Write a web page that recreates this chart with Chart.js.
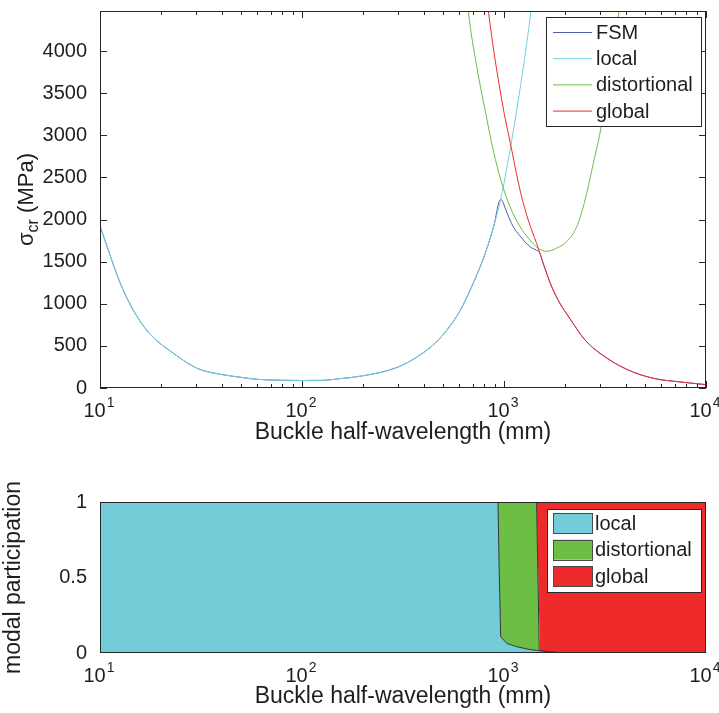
<!DOCTYPE html>
<html><head><meta charset="utf-8">
<script src="https://cdn.jsdelivr.net/npm/chart.js@4/dist/chart.umd.min.js"></script>
<style>
html,body{margin:0;padding:0;background:#fff;width:719px;height:713px;overflow:hidden}
#c1{position:absolute;left:0;top:0;width:719px;height:470px}
#c2{position:absolute;left:0;top:470px;width:719px;height:243px}
</style></head><body>
<canvas id="c1" width="719" height="470"></canvas>
<canvas id="c2" width="719" height="243"></canvas>
<script>
// ---------- data: top chart (critical stress vs half-wavelength) ----------
const seriesNames = ['FSM', 'local', 'distortional', 'global'];
const seriesColors = ['#4a5fb3', '#72d0de', '#6cbd45', '#ee2b2b'];

const fsmX = [10, 11.2, 12.6, 14.6, 17, 19.8, 23.1, 26.9, 31.3, 39.3, 49.4, 60, 78, 100, 127, 153, 197, 294, 384, 482, 605, 700, 791, 885, 963,
              1031, 1071, 1111, 1200, 1345, 1450, 1500, 1563, 1722, 1892, 2124, 2518, 2985, 4048, 5486, 7434, 10000];
const fsmY = [1926, 1580, 1243, 926, 688, 530, 412, 300, 220, 163, 128, 103, 92, 89, 91, 110, 142, 242, 392, 590, 915, 1230, 1540, 1900, 2240,
              2090, 1994, 1915, 1805, 1677, 1635, 1610, 1480, 1203, 1005, 820, 570, 412, 222, 115, 72, 40];

const localX = [10, 11.2, 12.6, 14.6, 17, 19.8, 23.1, 26.9, 31.3, 39.3, 49.4, 60, 78, 100, 127, 153, 197, 294, 384, 482, 605, 700, 791, 885, 963, 1071, 1177, 1280, 1361, 1450];
const localY = [1926, 1580, 1243, 926, 688, 530, 412, 300, 220, 163, 128, 103, 92, 89, 91, 110, 142, 242, 392, 590, 915, 1230, 1540, 1900, 2240, 2825, 3419, 4000, 4487, 5100];

const distX = [640, 665, 733, 806, 885, 975, 1071, 1200, 1345, 1479, 1627, 1822, 2043, 2292, 2500, 2768, 3044, 3221, 3473, 3719, 3900];
const distY = [4950, 4487, 3814, 3300, 2820, 2430, 2152, 1915, 1757, 1658, 1622, 1660, 1737, 1915, 2200, 2667, 3142, 3617, 4092, 4487, 4900];

const globalX = [800, 836, 975, 1092, 1200, 1318, 1450, 1563, 1722, 1892, 2124, 2518, 2985, 4048, 5486, 7434, 10000];
const globalY = [4950, 4487, 3419, 2825, 2350, 1994, 1717, 1480, 1203, 1005, 820, 570, 412, 222, 115, 72, 40];

// ---------- data: bottom chart (modal participation) ----------
const modalNames = ['local', 'distortional', 'global'];
const modalColors = ['#72cdd8', '#6dbe45', '#ee2a2a'];
const modalX = [10, 934, 945, 963, 1031, 1154, 1318, 1450, 1495, 1507, 1822, 2000, 10000];
const localPart = [1, 1, 0.6, 0.108, 0.064, 0.042, 0.025, 0.017, 0.015, 0.015, 0.003, 0, 0];
const distPart = [0, 0, 0.4, 0.892, 0.936, 0.958, 0.975, 0.983, 0, 0, 0, 0, 0];
const globalPart = [0, 0, 0, 0, 0, 0, 0, 0, 0.985, 0.985, 0.997, 1, 1];

// ---------- tick labels / titles ----------
const xTickValues = [10, 100, 1000, 10000];
const xTickBase = '10';
const xTickExponents = ['1', '2', '3', '4'];
const yTickValuesTop = [0, 500, 1000, 1500, 2000, 2500, 3000, 3500, 4000];
const yTickValuesBottom = [0, 0.5, 1];
const xTitle = 'Buckle half-wavelength (mm)';
const yTitleMain = 'σ', yTitleSub = 'cr', yTitleUnit = ' (MPa)';
const yTitle2 = 'modal participation';

const FONT = '"Liberation Sans", Arial, Helvetica, sans-serif';
const INK = '#1e1e1e';
const AXIS = '#262626';
Chart.defaults.font.family = FONT;
Chart.defaults.color = INK;

function pts(xs, ys) { return xs.map((x, i) => ({ x: x, y: ys[i] })); }

function drawBox(ctx, ca) {
  ctx.save();
  ctx.strokeStyle = AXIS; ctx.lineWidth = 1;
  ctx.strokeRect(Math.round(ca.left) + 0.5, Math.round(ca.top) + 0.5, Math.round(ca.width) - 1, Math.round(ca.height) - 1);
  ctx.restore();
}

function drawXLabels(chart) {
  const ctx = chart.ctx, xs = chart.scales.x, ca = chart.chartArea;
  ctx.save();
  ctx.fillStyle = INK; ctx.textBaseline = 'alphabetic'; ctx.textAlign = 'left';
  xTickValues.forEach((v, i) => {
    const px = xs.getPixelForValue(v);
    ctx.font = '20px ' + FONT;
    const w1 = ctx.measureText(xTickBase).width;
    ctx.font = '14px ' + FONT;
    const w2 = ctx.measureText(xTickExponents[i]).width;
    const x0 = px - (w1 + 1 + w2) / 2 - 1;
    ctx.font = '20px ' + FONT;
    ctx.fillText(xTickBase, x0, ca.bottom + 29);
    ctx.font = '14px ' + FONT;
    ctx.fillText(xTickExponents[i], x0 + w1 + 1, ca.bottom + 19);
  });
  ctx.restore();
}

function drawTicks(chart) {
  const ctx = chart.ctx, xs = chart.scales.x, ys = chart.scales.y, ca = chart.chartArea;
  ctx.save();
  ctx.strokeStyle = AXIS; ctx.lineWidth = 1;
  ctx.beginPath();
  ys.ticks.forEach(t => {
    const py = Math.round(ys.getPixelForValue(t.value)) + 0.5;
    ctx.moveTo(ca.left, py); ctx.lineTo(ca.left + 7, py);
    ctx.moveTo(ca.right, py); ctx.lineTo(ca.right - 7, py);
  });
  const vals = [];
  xTickValues.forEach((d, i) => {
    vals.push([d, 7]);
    if (i < xTickValues.length - 1) for (let m = 2; m <= 9; m++) vals.push([d * m, 4]);
  });
  vals.forEach(([v, len]) => {
    const px = Math.round(xs.getPixelForValue(v)) + 0.5;
    ctx.moveTo(px, ca.bottom); ctx.lineTo(px, ca.bottom - len);
    ctx.moveTo(px, ca.top); ctx.lineTo(px, ca.top + len);
  });
  ctx.stroke();
  ctx.restore();
}

function drawSigmaTitle(chart) {
  const ctx = chart.ctx, ca = chart.chartArea;
  const f1 = '22px ' + FONT, f2 = '16px ' + FONT;
  ctx.save();
  ctx.translate(33, (ca.top + ca.bottom) / 2);
  ctx.rotate(-Math.PI / 2);
  ctx.fillStyle = INK; ctx.textBaseline = 'alphabetic'; ctx.textAlign = 'left';
  ctx.font = f1; const wS = ctx.measureText(yTitleMain).width; const wU = ctx.measureText(yTitleUnit).width;
  ctx.font = f2; const wC = ctx.measureText(yTitleSub).width;
  let u = -(wS + wC + wU) / 2;
  ctx.font = f1; ctx.fillText(yTitleMain, u, 0); u += wS;
  ctx.font = f2; ctx.fillText(yTitleSub, u, 5); u += wC;
  ctx.font = f1; ctx.fillText(yTitleUnit, u, 0);
  ctx.restore();
}

function drawLineLegend(chart) {
  const ctx = chart.ctx, ca = chart.chartArea;
  const w = 155, h = 109;
  const L = Math.round(ca.right - 5 - w), T = Math.round(ca.top + 6);
  ctx.save();
  ctx.fillStyle = '#fff'; ctx.fillRect(L, T, w, h);
  ctx.strokeStyle = AXIS; ctx.lineWidth = 1; ctx.strokeRect(L + 0.5, T + 0.5, w, h);
  chart.data.datasets.forEach((ds, i) => {
    const cy = T + 15.5 + i * 26.2;
    ctx.strokeStyle = ds.borderColor; ctx.lineWidth = 1;
    ctx.beginPath(); ctx.moveTo(L + 7, cy); ctx.lineTo(L + 46, cy); ctx.stroke();
    ctx.fillStyle = INK; ctx.font = '20px ' + FONT; ctx.textBaseline = 'middle'; ctx.textAlign = 'left';
    ctx.fillText(ds.label, L + 50, cy + 1);
  });
  ctx.restore();
}

function drawAreaLegend(chart) {
  const ctx = chart.ctx, ca = chart.chartArea;
  const w = 154, h = 83;
  const L = Math.round(ca.right - 5 - w), T = Math.round(ca.top + 7);
  ctx.save();
  ctx.fillStyle = '#fff'; ctx.fillRect(L, T, w, h);
  ctx.strokeStyle = AXIS; ctx.lineWidth = 1; ctx.strokeRect(L + 0.5, T + 0.5, w, h);
  chart.data.datasets.forEach((ds, i) => {
    const top = T + 4 + i * 26.7;
    ctx.fillStyle = ds.backgroundColor; ctx.fillRect(L + 6, top, 39, 20);
    ctx.strokeStyle = '#4a4a4a'; ctx.strokeRect(L + 6.5, Math.round(top) + 0.5, 39, 20);
    ctx.fillStyle = INK; ctx.font = '20px ' + FONT; ctx.textBaseline = 'middle'; ctx.textAlign = 'left';
    ctx.fillText(ds.label, L + 48, top + 11);
  });
  ctx.restore();
}

// ---------- top chart ----------
const topDatasets = [
  { label: seriesNames[0], data: pts(fsmX, fsmY), borderColor: seriesColors[0], order: 4 },
  { label: seriesNames[1], data: pts(localX, localY), borderColor: seriesColors[1], order: 3 },
  { label: seriesNames[2], data: pts(distX, distY), borderColor: seriesColors[2], order: 2 },
  { label: seriesNames[3], data: pts(globalX, globalY), borderColor: seriesColors[3], order: 1 }
].map(d => Object.assign(d, { borderWidth: 1, pointRadius: 0, fill: false, cubicInterpolationMode: 'monotone' }));

new Chart(document.getElementById('c1'), {
  type: 'line',
  data: { datasets: topDatasets },
  options: {
    responsive: false, animation: false, devicePixelRatio: 1,
    layout: { padding: { top: 11, right: 13, left: 0, bottom: 0 } },
    plugins: { legend: { display: false }, tooltip: { enabled: false } },
    scales: {
      x: {
        type: 'logarithmic', min: 10, max: 10000,
        grid: { display: false }, border: { display: false },
        ticks: { display: false },
        title: { display: true, text: xTitle, font: { size: 23 }, color: INK, padding: { top: 0, bottom: 24 } },
        afterFit: s => { s.height = 82; s.paddingLeft = 0; s.paddingRight = 0; }
      },
      y: {
        min: 0, max: 4475,
        grid: { display: false }, border: { display: false },
        afterBuildTicks: s => { s.ticks = yTickValuesTop.map(v => ({ value: v })); },
        ticks: { padding: 5, font: { size: 20 }, color: INK, callback: v => String(v) },
        afterFit: s => { s.width = 100; s.paddingTop = 0; s.paddingBottom = 0; }
      }
    }
  },
  plugins: [{
    id: 'matlabTop',
    afterDraw: chart => {
      drawBox(chart.ctx, chart.chartArea);
      drawTicks(chart);
      drawXLabels(chart);
      drawSigmaTitle(chart);
      drawLineLegend(chart);
    }
  }]
});

// ---------- bottom chart ----------
const parts = [localPart, distPart, globalPart];
const botDatasets = modalNames.map((n, i) => ({
  label: n,
  data: pts(modalX, parts[i]),
  backgroundColor: modalColors[i],
  borderColor: '#333333',
  borderWidth: 1,
  pointRadius: 0,
  tension: 0,
  fill: i === 0 ? 'origin' : '-1'
}));

new Chart(document.getElementById('c2'), {
  type: 'line',
  data: { datasets: botDatasets },
  options: {
    responsive: false, animation: false, devicePixelRatio: 1,
    layout: { padding: { top: 32, right: 13, left: 0, bottom: 0 } },
    plugins: { legend: { display: false }, tooltip: { enabled: false } },
    scales: {
      x: {
        type: 'logarithmic', min: 10, max: 10000,
        grid: { display: false }, border: { display: false },
        ticks: { display: false },
        title: { display: true, text: xTitle, font: { size: 23 }, color: INK, padding: { top: 0, bottom: 3 } },
        afterFit: s => { s.height = 60; s.paddingLeft = 0; s.paddingRight = 0; }
      },
      y: {
        min: 0, max: 1, stacked: true,
        grid: { display: false }, border: { display: false },
        afterBuildTicks: s => { s.ticks = yTickValuesBottom.map(v => ({ value: v })); },
        ticks: { padding: 5, font: { size: 20 }, color: INK, callback: v => String(v) },
        title: { display: true, text: yTitle2, font: { size: 23 }, color: INK, padding: { top: 0, bottom: 0 } },
        afterFit: s => { s.width = 100; s.paddingTop = 0; s.paddingBottom = 0; }
      }
    }
  },
  plugins: [{
    id: 'matlabBottom',
    afterDraw: chart => {
      drawBox(chart.ctx, chart.chartArea);
      drawXLabels(chart);
      drawAreaLegend(chart);
    }
  }]
});
</script>
</body></html>
